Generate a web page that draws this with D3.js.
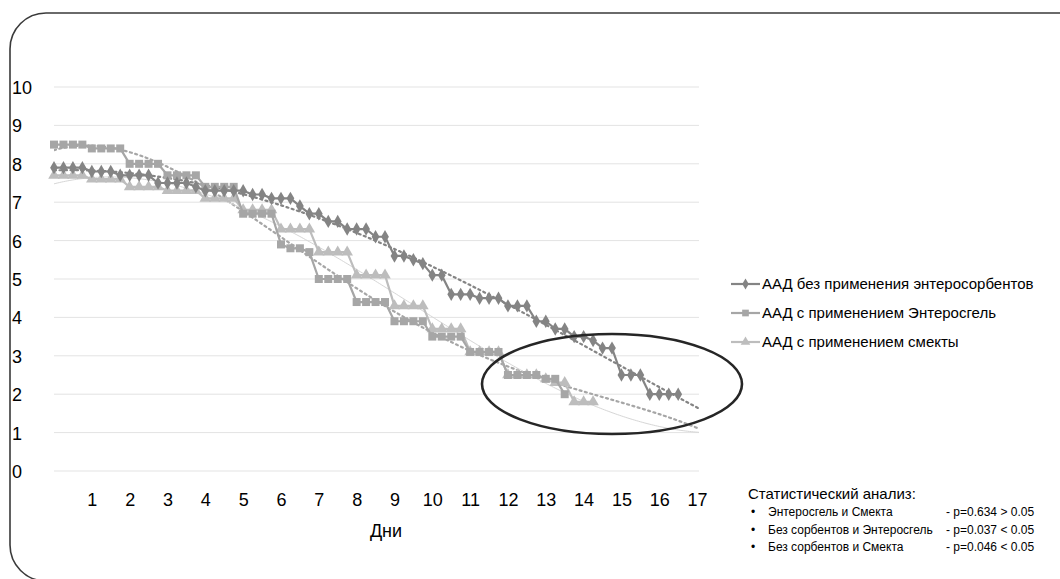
<!DOCTYPE html>
<html>
<head>
<meta charset="utf-8">
<script src="https://cdn.jsdelivr.net/npm/d3@7"></script>
<style>
  html, body { margin: 0; padding: 0; background: #fff; }
  svg { display: block; }
  text { font-family: "Liberation Sans", Arial, sans-serif; fill: #000; }
</style>
</head>
<body>
<svg id="chart" width="1060" height="579"></svg>
<script>
// Days axis labels (each day holds four observations)
const dayLabels = ["1","2","3","4","5","6","7","8","9","10","11","12","13","14","15","16","17"];
const yTicks = [0,1,2,3,4,5,6,7,8,9,10];

// Score per observation, four observations per day
const noSorbent = [
  7.9,7.9,7.9,7.9, 7.8,7.8,7.8, 7.7,7.7,7.7,7.7, 7.5,7.5,7.5,7.5, 7.4,
  7.3,7.3,7.3,7.3,7.3, 7.2,7.2, 7.1,7.1,7.1, 6.9, 6.7,6.7, 6.5,6.5,
  6.3,6.3,6.3, 6.1,6.1, 5.6,5.6, 5.5, 5.4, 5.1,5.1, 4.6,4.6,4.6,
  4.5,4.5,4.5, 4.3,4.3,4.3, 3.9,3.9, 3.7,3.7, 3.5,3.5, 3.4, 3.2,3.2,
  2.5,2.5,2.5, 2.0,2.0,2.0,2.0
];
const enterosgel = [
  8.5,8.5,8.5,8.5, 8.4,8.4,8.4,8.4, 8.0,8.0,8.0,8.0, 7.7,7.7,7.7,7.7,
  7.4,7.4,7.4,7.4, 6.7,6.7,6.7,6.7, 5.9, 5.8,5.8, 5.7, 5.0,5.0,5.0,5.0,
  4.4,4.4,4.4,4.4, 3.9,3.9,3.9,3.9, 3.5,3.5,3.5,3.5, 3.1,3.1,3.1,3.1,
  2.5,2.5,2.5,2.5, 2.4,2.4, 2.0
];
const smecta = [
  7.7,7.7,7.7,7.7, 7.6,7.6,7.6,7.6, 7.4,7.4,7.4,7.4, 7.3,7.3,7.3,7.3,
  7.1,7.1,7.1,7.1, 6.8,6.8,6.8,6.8, 6.3,6.3,6.3,6.3, 5.7,5.7,5.7,5.7,
  5.1,5.1,5.1,5.1, 4.3,4.3,4.3,4.3, 3.7,3.7,3.7,3.7, 3.1,3.1,3.1,3.1,
  2.5,2.5,2.5,2.5, 2.4, 2.3,2.3, 1.8,1.8,1.8
];

const seriesNames = [
  "ААД без применения энтеросорбентов",
  "ААД с применением Энтеросгель",
  "ААД с применением смекты"
];
const statTitle = "Статистический анализ:";
const statPairs = ["Энтеросгель     и Смекта", "Без сорбентов и Энтеросгель", "Без сорбентов и Смекта"];
const statValues = ["- p=0.634 > 0.05", "- p=0.037 < 0.05", "- p=0.046 < 0.05"];
const xTitle = "Дни";

const svg = d3.select("#chart");
const W = 1060, H = 579;
svg.append("rect").attr("width", W).attr("height", H).attr("fill", "#fff");

// observation index -> x, value -> y
const x = d3.scaleLinear().domain([0, 68.2]).range([54, 699]);
const y = d3.scaleLinear().domain([0, 10]).range([471, 87]);

// rounded frame around the figure
svg.append("path")
  .attr("d", "M1064,13 L46,13 A36,36 0 0 0 10,49 L10,545 A36,36 0 0 0 46,581 L1064,581")
  .attr("fill", "none").attr("stroke", "#3a3a3a").attr("stroke-width", 1.6);

// horizontal gridlines
svg.append("g").selectAll("line").data(yTicks).join("line")
  .attr("x1", x(0)).attr("x2", x(68.2))
  .attr("y1", d => y(d)).attr("y2", d => y(d))
  .attr("stroke", "#e3e3e3").attr("stroke-width", 1);

// y-axis labels
const yAxis = d3.axisLeft(y).tickValues(yTicks).tickSize(0).tickFormat(d3.format("d"));
const gy = svg.append("g").attr("transform", "translate(12,0)").call(yAxis);
gy.select(".domain").remove();
gy.selectAll("text").attr("text-anchor", "start").attr("x", 0).attr("dy", "0.36em")
  .style("font-size", "18px").style("font-family", "'Liberation Sans', Arial, sans-serif").attr("fill", "#000");

// x-axis labels at every fourth observation
const xAxis = d3.axisBottom(x).tickValues(dayLabels.map((d, i) => (i + 1) * 4))
  .tickSize(0).tickFormat((d, i) => dayLabels[i]);
const gx = svg.append("g").attr("transform", "translate(0,490)").call(xAxis);
gx.select(".domain").remove();
gx.selectAll("text").attr("dy", "0.71em")
  .style("font-size", "18px").style("font-family", "'Liberation Sans', Arial, sans-serif").attr("fill", "#000");

svg.append("text").attr("x", 386).attr("y", 537).attr("text-anchor", "middle")
  .style("font-size", "18px").text(xTitle);

// least-squares polynomial trend
function polyFit(vals, order) {
  const n = order + 1, sc = 68;
  const A = d3.range(n).map(() => new Array(n + 1).fill(0));
  vals.forEach((v, i) => {
    const u = i / sc;
    for (let r = 0; r < n; r++) {
      for (let c = 0; c < n; c++) A[r][c] += Math.pow(u, r + c);
      A[r][n] += v * Math.pow(u, r);
    }
  });
  for (let c = 0; c < n; c++) {
    for (let r = c + 1; r < n; r++) {
      const f = A[r][c] / A[c][c];
      for (let k = c; k <= n; k++) A[r][k] -= f * A[c][k];
    }
  }
  const b = new Array(n).fill(0);
  for (let r = n - 1; r >= 0; r--) {
    let acc = A[r][n];
    for (let k = r + 1; k < n; k++) acc -= A[r][k] * b[k];
    b[r] = acc / A[r][r];
  }
  return i => b.reduce((s, bk, k) => s + bk * Math.pow(i / sc, k), 0);
}

svg.append("clipPath").attr("id", "plotClip").append("rect")
  .attr("x", x(0)).attr("y", y(10) - 10).attr("width", x(68.2) - x(0)).attr("height", y(0) - y(10) + 10);

const series = [
  { name: seriesNames[0], values: noSorbent, color: "#848484", marker: "diamond", trend: { order: 4, color: "#848484", dash: "2,3.5", width: 2.2 } },
  { name: seriesNames[1], values: enterosgel, color: "#a6a6a6", marker: "square", trend: { order: 4, color: "#a6a6a6", dash: "2,3.5", width: 2.2 } },
  { name: seriesNames[2], values: smecta, color: "#bdbdbd", marker: "triangle", trend: { order: 3, color: "#d6d6d6", dash: null, width: 1 } }
];

const symbolType = { diamond: d3.symbolDiamond, square: d3.symbolSquare, triangle: d3.symbolTriangle };
const symbolSize = { diamond: 52, square: 64, triangle: 58 };

const line = d3.line().x((d, i) => x(i)).y(d => y(d));

// polynomial trendlines, drawn beneath the data
const trendIdx = d3.range(0, 68.21, 0.2);
series.forEach(s => {
  const f = polyFit(s.values, s.trend.order);
  svg.append("path")
    .datum(trendIdx)
    .attr("clip-path", "url(#plotClip)")
    .attr("d", d3.line().x(i => x(i)).y(i => y(f(i))))
    .attr("fill", "none").attr("stroke", s.trend.color)
    .attr("stroke-width", s.trend.width)
    .attr("stroke-dasharray", s.trend.dash)
    .attr("stroke-linecap", s.trend.dash ? "round" : "butt");
});

// data series, last drawn on top
[2, 1, 0].forEach(k => {
  const s = series[k];
  const g = svg.append("g");
  g.append("path").datum(s.values).attr("d", line)
    .attr("fill", "none").attr("stroke", s.color).attr("stroke-width", 2.2).attr("stroke-linejoin", "round");
  g.selectAll("path.m").data(s.values).join("path").attr("class", "m")
    .attr("transform", (d, i) => `translate(${x(i)},${y(d)})`)
    .attr("d", d3.symbol().type(symbolType[s.marker]).size(symbolSize[s.marker]))
    .attr("fill", s.color);
});

// legend
const legendY = [284, 313, 342];
series.forEach((s, k) => {
  const g = svg.append("g").attr("transform", `translate(731,${legendY[k]})`);
  g.append("line").attr("x1", 0).attr("x2", 29).attr("stroke", s.color).attr("stroke-width", 2.2);
  g.append("path").attr("transform", "translate(14.5,0)")
    .attr("d", d3.symbol().type(symbolType[s.marker]).size(symbolSize[s.marker] * 0.7)).attr("fill", s.color);
  g.append("text").attr("x", 31).attr("dy", "0.35em").style("font-size", "15px").text(s.name);
});

// highlighted region of late days
svg.append("ellipse").attr("cx", 612).attr("cy", 384).attr("rx", 130).attr("ry", 50)
  .attr("fill", "none").attr("stroke", "#262626").attr("stroke-width", 2.6);

// statistics block
svg.append("text").attr("x", 748).attr("y", 499).style("font-size", "15px").text(statTitle);
statPairs.forEach((p, k) => {
  const yy = 516 + k * 17.5;
  svg.append("text").attr("x", 751).attr("y", yy).style("font-size", "12px").text("•");
  svg.append("text").attr("x", 768).attr("y", yy).style("font-size", "12px").text(p);
  svg.append("text").attr("x", 946).attr("y", yy).style("font-size", "12px").text(statValues[k]);
});
</script>
</body>
</html>
